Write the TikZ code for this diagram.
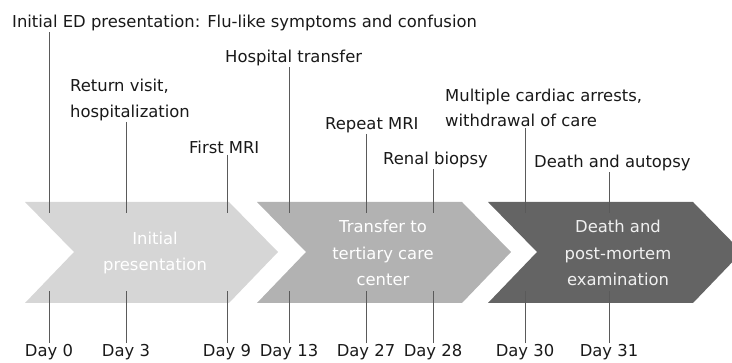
\documentclass[tikz,border=0pt]{standalone}
\usepackage{fontspec}
\setmainfont{DejaVu Sans}
\usepackage{xcolor}
\usepackage{tikz}
\usetikzlibrary{positioning,calc}

\definecolor{stageA}{HTML}{D6D6D6}
\definecolor{stageB}{HTML}{B2B2B2}
\definecolor{stageC}{HTML}{646464}
\definecolor{tickgray}{HTML}{5A5A5A}

\begin{document}
\begin{tikzpicture}[x=1pt, y=1pt,
    every node/.style={font=\fontsize{16.4}{25.5}\selectfont, inner sep=1pt},
    event/.style={anchor=west, align=left, text=black!90},
    day/.style={text=black!90},
    stage/.style={align=center, text=white, font=\fontsize{16.4}{26.5}\selectfont},
    tick/.style={draw=tickgray, line width=0.8pt}]
    \clip (0,0) rectangle (732,363);

    % stages of the timeline
    \fill[stageA] (25,161) -- (229,161) -- (278,111) -- (229,60) -- (25,60) -- (74,111) -- cycle;
    \fill[stageB] (257,161) -- (462,161) -- (511,111) -- (462,60) -- (257,60) -- (306,111) -- cycle;
    \fill[stageC] (488,161) -- (693,161) -- (742,111) -- (693,60) -- (488,60) -- (537,111) -- cycle;

    \node[stage] (sInit) at (155,110) {Initial\\presentation};
    \node[stage] (sTrans) at (383,110) {Transfer to\\tertiary care\\center};
    \node[stage, text=white!94!black] (sDeath) at (618,110) {Death and\\post-mortem\\examination};

    % events above
    \node[event] (eED) at (11,340) {Initial ED presentation: Flu-like symptoms and confusion};
    \node[event] (eRet) at (69,263) {Return visit,\\hospitalization};
    \node[event] (eMRI) at (188,216) {First MRI};
    \node[event] (eHosp) at (224,305) {Hospital transfer};
    \node[event] (eRep) at (324,238) {Repeat MRI};
    \node[event] (eRen) at (382,203) {Renal biopsy};
    \node[event] (eArr) at (444,255) {Multiple cardiac arrests,\\withdrawal of care};
    \node[event] (eAut) at (533,200) {Death and autopsy};

    % days below
    \node[day] (d0) at (49,11) {Day 0};
    \node[day] (d3) at (126,11) {Day 3};
    \node[day] (d9) at (227,11) {Day 9};
    \node[day] (d13) at (289,11) {Day 13};
    \node[day] (d27) at (366,11) {Day 27};
    \node[day] (d28) at (433,11) {Day 28};
    \node[day] (d30) at (525,11) {Day 30};
    \node[day] (d31) at (609,11) {Day 31};

    % ticks
    \draw[tick] (eED.south -| d0) -- (d0 |- 0,150);
    \draw[tick] (eRet.south -| d3) -- (d3 |- 0,150);
    \draw[tick] (eMRI.south -| d9) -- (d9 |- 0,150);
    \draw[tick] (eHosp.south -| d13) -- (d13 |- 0,150);
    \draw[tick] (eRep.south -| d27) -- (d27 |- 0,150);
    \draw[tick] (eRen.south -| d28) -- (d28 |- 0,150);
    \draw[tick] (eArr.south -| d30) -- (d30 |- 0,150);
    \draw[tick] (eAut.south -| d31) -- (d31 |- 0,150);

    \draw[tick] (d0.north) -- (d0 |- 0,72);
    \draw[tick] (d3.north) -- (d3 |- 0,72);
    \draw[tick] (d9.north) -- (d9 |- 0,72);
    \draw[tick] (d13.north) -- (d13 |- 0,72);
    \draw[tick] (d27.north) -- (d27 |- 0,72);
    \draw[tick] (d28.north) -- (d28 |- 0,72);
    \draw[tick] (d30.north) -- (d30 |- 0,72);
    \draw[tick] (d31.north) -- (d31 |- 0,72);
\end{tikzpicture}
\end{document}
